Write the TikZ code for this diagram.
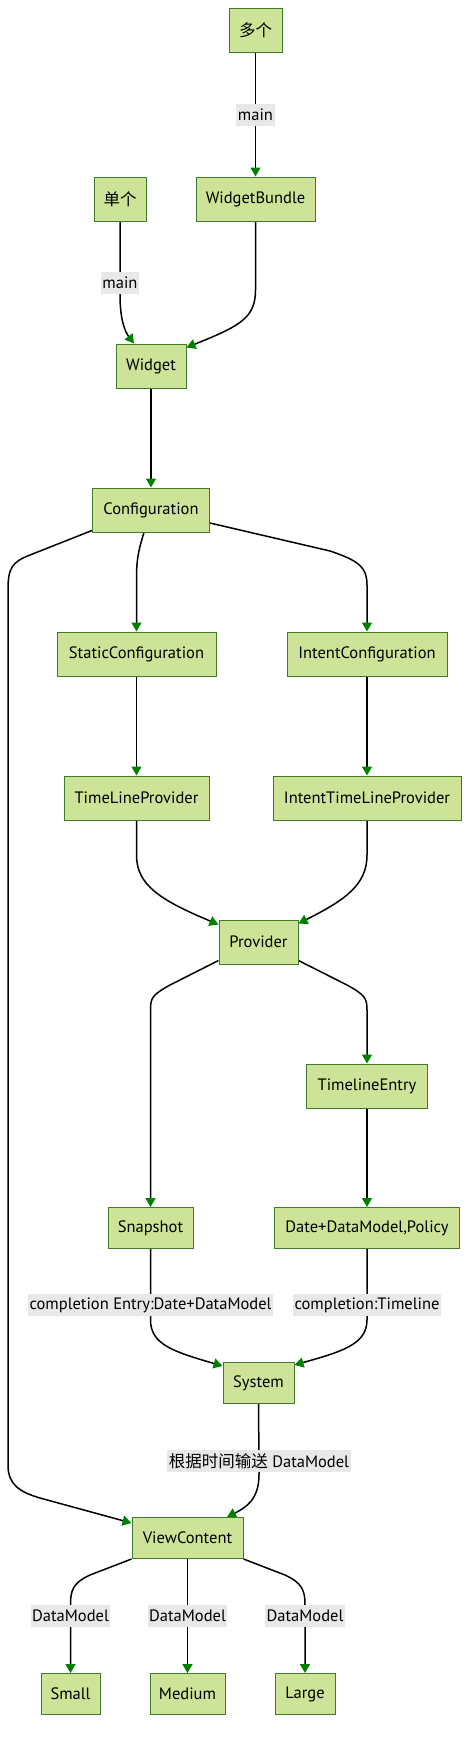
\documentclass[tikz,border=0pt]{standalone}
\usepackage{fontspec}
\setmainfont{PT Sans}
\newfontfamily\cjk{Noto Sans CJK SC}
\usetikzlibrary{arrows.meta}
\definecolor{boxfill}{HTML}{CDE498}
\definecolor{boxstroke}{HTML}{3F7A2E}
\definecolor{arrowgreen}{HTML}{008000}
\definecolor{labelbg}{HTML}{E8E8E8}
\pgfdeclarelayer{bg}
\pgfsetlayers{bg,main}
\tikzset{
  box/.style={draw=boxstroke, fill=boxfill, line width=1pt, minimum height=44pt, inner sep=0pt, font=\fontsize{16.5}{19}\selectfont},
  lbox/.style={box, minimum height=41pt},
  lab/.style={fill=labelbg, inner sep=1.5pt, minimum height=22pt, font=\fontsize{16.5}{19}\selectfont},
  edge/.style={line width=1.5pt, black, -{Triangle[length=9pt, width=10pt, color=arrowgreen]}},
}
\begin{document}
\begin{tikzpicture}[x=1pt, y=-1pt]
\useasboundingbox (0,0) rectangle (469,1764);
% nodes
\node[box, minimum width=53pt] (duo) at (255.5,30.5) {\cjk 多个};
\node[box, minimum width=119pt] (wb) at (255.5,199) {WidgetBundle};
\node[box, minimum width=52pt] (dan) at (120,199) {\cjk 单个};
\node[box, minimum width=70pt] (wid) at (151,366) {Widget};
\node[box, minimum width=117pt] (cfg) at (151,510) {Configuration};
\node[box, minimum width=159pt] (sc) at (136.5,654) {StaticConfiguration};
\node[box, minimum width=160pt] (ic) at (367,654) {IntentConfiguration};
\node[box, minimum width=145pt] (tlp) at (136.5,798) {TimeLineProvider};
\node[box, minimum width=188pt] (itlp) at (367,798) {IntentTimeLineProvider};
\node[box, minimum width=79pt] (prov) at (258.5,942) {Provider};
\node[box, minimum width=121pt] (te) at (367,1086) {TimelineEntry};
\node[lbox, minimum width=85pt] (snap) at (150.5,1228) {Snapshot};
\node[lbox, minimum width=185pt] (dmp) at (367,1228) {Date+DataModel,Policy};
\node[lbox, minimum width=71pt] (sys) at (258.5,1383) {System};
\node[lbox, minimum width=111pt] (vc) at (187.5,1538) {ViewContent};
\node[lbox, minimum width=59pt] (small) at (70.5,1694) {Small};
\node[lbox, minimum width=75pt] (medium) at (187.5,1694) {Medium};
\node[lbox, minimum width=60pt] (large) at (305,1694) {Large};
% labels
\node[lab] (l1) at (255.5,115) {main};
\node[lab] (l2) at (120,283) {main};
\node[lab] (l3) at (150.5,1305) {completion Entry:Date+DataModel};
\node[lab] (l4) at (367,1305) {completion:Timeline};
\node[lab] (l5) at (259,1461) {{\cjk 根据时间输送} DataModel};
\node[lab] (l6) at (70.5,1616) {DataModel};
\node[lab] (l7) at (187.5,1616) {DataModel};
\node[lab] (l8) at (305,1616) {DataModel};
% edges
\begin{pgfonlayer}{bg}
\draw[edge] (duo.south) -- (l1.center) -- (wb.north);
\draw[edge] (dan.south) -- (l2.center) -- (120,295) .. controls (120,322) and (126,333) .. ([xshift=-17pt]wid.north);
\draw[edge] (wb.south) -- (255.5,290) .. controls (255.5,318) and (240,326) .. ([yshift=-4pt]wid.north east);
\draw[edge] (wid.south) -- (cfg.north);
\draw[edge] ([xshift=-7pt]cfg.south) .. controls (138,552) and (136.5,560) .. (136.5,580) -- (sc.north);
\draw[edge] ([yshift=-13pt]cfg.east) -- (330,551) .. controls (360,561) and (367,568) .. (367,585) -- (ic.north);
\draw[edge] ([yshift=2pt]cfg.south west) -- (30,555) .. controls (12,562) and (8,568) .. (8,590) -- (8,1465) .. controls (8,1485) and (20,1492) .. (40,1498) -- ([yshift=-6pt]vc.north west);
\draw[edge] (sc.south) -- (tlp.north);
\draw[edge] (ic.south) -- (itlp.north);
\draw[edge] (tlp.south) -- (136.5,855) .. controls (136.5,885) and (160,900) .. ([yshift=-5pt]prov.north west);
\draw[edge] (itlp.south) -- (367,855) .. controls (367,885) and (345,900) .. ([yshift=-4pt]prov.north east);
\draw[edge] ([yshift=4pt]prov.south west) -- (170,985) .. controls (152,995) and (150.5,998) .. (150.5,1010) -- (snap.north);
\draw[edge] ([yshift=4pt]prov.south east) -- (347,985) .. controls (365,995) and (367,998) .. (367,1010) -- (te.north);
\draw[edge] (te.south) -- (dmp.north);
\draw[edge] (snap.south) -- (l3.center) -- (150.5,1320) .. controls (150.5,1345) and (175,1352) .. ([yshift=-4pt]sys.north west);
\draw[edge] (dmp.south) -- (l4.center) -- (367,1320) .. controls (367,1345) and (340,1352) .. ([yshift=-3pt]sys.north east);
\draw[edge] (sys.south) -- (l5.center) -- (259,1475) .. controls (259,1500) and (245,1508) .. ([xshift=39.5pt]vc.north);
\draw[edge] (vc.south west) -- (90,1575) .. controls (73,1583) and (70.5,1590) .. (70.5,1605) -- (l6.center) -- (small.north);
\draw[edge] (vc.south) -- (l7.center) -- (medium.north);
\draw[edge] (vc.south east) -- (285,1575) .. controls (302,1583) and (305,1590) .. (305,1605) -- (l8.center) -- (large.north);
\end{pgfonlayer}
\end{tikzpicture}
\end{document}
